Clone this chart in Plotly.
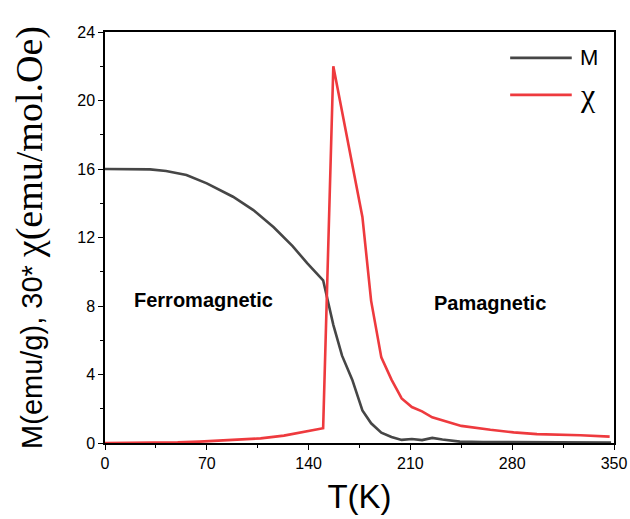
import plotly.graph_objects as go

# Magnetization M (emu/g) versus temperature
t_m = [0, 10, 20, 31, 42, 56, 70, 80, 88, 102, 116, 129, 139, 150, 157, 163,
       170, 177, 183, 190, 197, 204, 211, 218, 225, 232, 244, 260, 280, 300,
       320, 348]
m_vals = [16.0, 16.0, 16.0, 15.98, 15.88, 15.65, 15.16, 14.75, 14.38, 13.6,
          12.6, 11.5, 10.5, 9.5, 6.9, 5.1, 3.7, 1.9, 1.15, 0.6, 0.35, 0.18,
          0.23, 0.17, 0.3, 0.2, 0.08, 0.06, 0.05, 0.07, 0.04, 0.03]

# Susceptibility, scaled by 30 (emu/mol.Oe)
t_chi = [0, 30, 50, 65, 88, 107, 123, 134, 150, 157, 163, 170, 177, 183, 190,
         197, 204, 211, 218, 225, 233, 245, 265, 281, 297, 308, 327, 347]
chi_vals = [0.0, 0.01, 0.04, 0.08, 0.17, 0.27, 0.43, 0.6, 0.86, 22.0, 19.4,
            16.4, 13.2, 8.3, 5.0, 3.7, 2.6, 2.1, 1.85, 1.5, 1.3, 1.0, 0.77,
            0.62, 0.52, 0.5, 0.45, 0.37]

x_ticks = [0, 70, 140, 210, 280, 350]
y_ticks = [0, 4, 8, 12, 16, 20, 24]

GREY = "#464646"
RED = "#EE3A3E"
SANS = "Liberation Sans, Arial, sans-serif"
SERIF = "Liberation Serif, Times New Roman, serif"

fig = go.Figure()
fig.add_trace(go.Scatter(x=t_m, y=m_vals, mode="lines", name="M",
                         line=dict(color=GREY, width=2.6)))
fig.add_trace(go.Scatter(x=t_chi, y=chi_vals, mode="lines", name="χ",
                         line=dict(color=RED, width=2.6)))

axis_common = dict(
    showline=True, linecolor="black", linewidth=1.5, mirror=True,
    ticks="outside", ticklen=5, tickwidth=1.2, tickcolor="black",
    showgrid=False, zeroline=False, automargin=False,
    tickfont=dict(family=SANS, size=16, color="black"),
)

fig.update_xaxes(
    range=[0, 350], tickvals=x_ticks,
    minor=dict(dtick=35, ticks="outside", ticklen=3, tickcolor="black"),
    title=dict(text="T(K)", font=dict(family=SANS, size=33, color="black"),
               standoff=14),
    **axis_common,
)
fig.update_yaxes(
    range=[0, 24], tickvals=y_ticks,
    minor=dict(dtick=2, ticks="outside", ticklen=3, tickcolor="black"),
    title=dict(
        text=("M(emu/g), 30* <span style=\"font-family:'Liberation Serif';"
              "font-size:38px\">χ(emu/mol.Oe)</span>"),
        font=dict(family=SANS, size=29, color="black"), standoff=26),
    **axis_common,
)

# Region labels
fig.add_annotation(x=68, y=8.35, xref="x", yref="y", text="<b>Ferromagnetic</b>",
                   showarrow=False, font=dict(family=SANS, size=20, color="black"))
fig.add_annotation(x=265, y=8.2, xref="x", yref="y", text="<b>Pamagnetic</b>",
                   showarrow=False, font=dict(family=SANS, size=20, color="black"))

# Legend keys
legend_rows = [("M", GREY, 0.937, SANS, 22), ("χ", RED, 0.847, SERIF, 32)]
for label, color, yp, fam, fsize in legend_rows:
    fig.add_shape(type="line", xref="paper", yref="paper",
                  x0=0.796, x1=0.917, y0=yp, y1=yp,
                  line=dict(color=color, width=2.6))
    fig.add_annotation(x=0.93, y=yp, xref="paper", yref="paper", text=label,
                       showarrow=False, xanchor="left", yanchor="middle",
                       font=dict(family=fam, size=fsize, color="black"))

fig.update_layout(
    width=630, height=519,
    margin=dict(l=105, r=16, t=32, b=76),
    plot_bgcolor="white", paper_bgcolor="white",
    showlegend=False,
)

fig.write_html("out.html")
